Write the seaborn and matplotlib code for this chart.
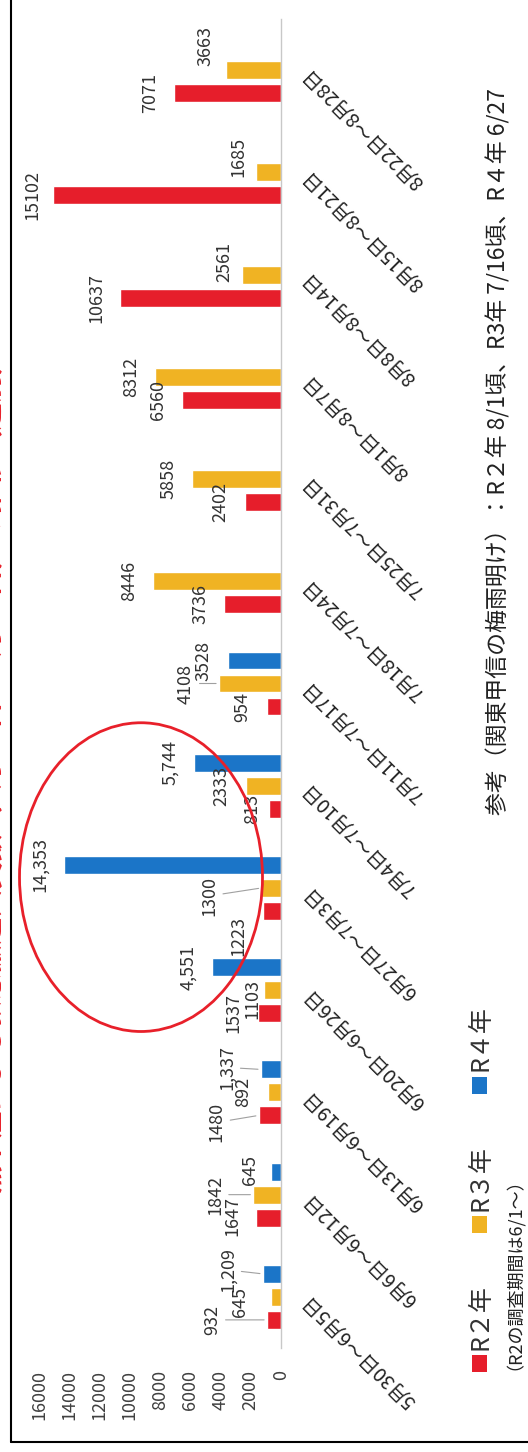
import numpy as np
import pandas as pd
import matplotlib
matplotlib.use("Agg")
import matplotlib.pyplot as plt
import seaborn as sns
from matplotlib.patches import Ellipse, Rectangle
from matplotlib.lines import Line2D

# ---------------- data ----------------
weeks = ["5月30日～6月5日", "6月6日～6月12日", "6月13日～6月19日", "6月20日～6月26日",
         "6月27日～7月3日", "7月4日～7月10日", "7月11日～7月17日", "7月18日～7月24日",
         "7月25日～7月31日", "8月1日～8月7日", "8月8日～8月14日", "8月15日～8月21日",
         "8月22日～8月28日"]
years = ["R２年", "R３年", "R４年"]
r2 = [932, 1647, 1480, 1537, 1223, 813, 954, 3736, 2402, 6560, 10637, 15102, 7071]
r3 = [645, 1842, 892, 1103, 1300, 2333, 4108, 8446, 5858, 8312, 2561, 1685, 3663]
r4 = [1209, 645, 1337, 4551, 14353, 5744, 3528,
      np.nan, np.nan, np.nan, np.nan, np.nan, np.nan]
r2_labels = [str(v) for v in r2]
r3_labels = [str(v) for v in r3]
r4_labels = ["1,209", "645", "1,337", "4,551", "14,353", "5,744", "3528",
             "", "", "", "", "", ""]
value_ticks = [0, 2000, 4000, 6000, 8000, 10000, 12000, 14000, 16000]
title = "熱中症による救急搬送人員数（5月30日～8月28日）の推移（週別）"
note = "参考（関東甲信の梅雨明け）：R２年 8/1頃、R3年 7/16頃、R４年 6/27"
sub_note = "（R2の調査期間は6/1～）"

colors = {"R２年": "#E61E2B", "R３年": "#F0B323", "R４年": "#1B75C8"}

# ---------------- styling ----------------
sns.set_theme(style="white")
plt.rcParams["font.family"] = ["Noto Sans CJK JP", "DejaVu Sans"]

W, H = 528, 1452
fig = plt.figure(figsize=(W / 100, H / 100), dpi=100)
fig.patch.set_facecolor("white")


def fx(px):
    return px / W


def fy(py):
    return 1 - py / H


ax = fig.add_axes([fx(39), fy(1348), 242 / W, 1329 / H])

rows = []
for yr, vals in zip(years, [r2, r3, r4]):
    for wk, v in zip(weeks, vals):
        if not np.isnan(v):
            rows.append({"week": wk, "year": yr, "value": v})
df = pd.DataFrame(rows)

sns.barplot(data=df, x="value", y="week", hue="year", order=weeks,
            hue_order=years, palette=colors, orient="h", width=0.675,
            gap=0.22, errorbar=None, legend=False, saturation=1, ax=ax)

ax.set_xlim(16000, 0)
ax.set_ylim(-0.5, 12.5)
ax.set_xlabel("")
ax.set_ylabel("")
ax.set_facecolor("white")
for s in ["left", "top", "bottom"]:
    ax.spines[s].set_visible(False)
ax.spines["right"].set_color("#C8C8C8")
ax.spines["right"].set_linewidth(1.0)

ax.set_xticks(value_ticks)
ax.set_xticklabels([str(t) for t in value_ticks], rotation=90)
ax.tick_params(axis="x", length=0, pad=16, labelsize=13, labelcolor="#404040")

ax.yaxis.tick_right()
ax.set_yticks(range(len(weeks)))
ax.set_yticklabels(weeks)
ax.tick_params(axis="y", length=0, pad=18, labelsize=14, labelcolor="#222222")
for t in ax.yaxis.get_major_ticks():
    lb = t.label2
    lb.set_rotation(135)
    lb.set_ha("right")
    lb.set_va("center")
    lb.set_rotation_mode("anchor")

# ---------------- data labels ----------------
offsets = {  # (series, week): (dx px, dy px, leader)
    (0, 0): (-31, 0, True), (1, 0): (-7, 5, False), (2, 0): (-11, -4, True),
    (0, 1): (0, -2, False), (1, 1): (-14, 0, True), (2, 1): (3, -2, False),
    (0, 2): (-18, 7, True), (2, 2): (-10, -2, True),
    (1, 3): (12, 9, False),
    (0, 4): (0, 25, False), (1, 4): (-28, 8, True),
    (0, 5): (7, 0, False),
    (1, 6): (-9, 0, True),
    (1, 10): (6, -13, False), (0, 11): (4, 0, False), (1, 11): (7, -15, False),
    (1, 12): (4, -24, False),
}
for j, (vals, labs) in enumerate([(r2, r2_labels), (r3, r3_labels), (r4, r4_labels)]):
    for i, (v, lab) in enumerate(zip(vals, labs)):
        if np.isnan(v):
            continue
        ypos = i + (j - 1) * 0.225
        dx, dy, lead = offsets.get((j, i), (0, 0, False))
        kw = {}
        if lead:
            kw["arrowprops"] = dict(arrowstyle="-", color="#A0A0A0", lw=0.8,
                                    shrinkA=1, shrinkB=2)
        ax.annotate(lab, xy=(v, ypos), xytext=(-24 + dx, -dy),
                    textcoords="offset pixels", rotation=90, ha="center",
                    va="center", fontsize=13, color="#333333",
                    annotation_clip=False, **kw)

# red highlight ellipse
ax.add_patch(Ellipse((9256, 4.106), width=16066, height=3.02, fill=False,
                     edgecolor="#E8202A", lw=2.0, zorder=6, clip_on=False))

# ---------------- legend & notes ----------------
leg = [("R２年", 1372, 1350), ("R３年", 1233, 1211), ("R４年", 1094, 1071)]
for yr, sq_bottom, txt_bottom in leg:
    fig.add_artist(Rectangle((fx(472), fy(sq_bottom)), 15 / W, 17 / H,
                             transform=fig.transFigure, color=colors[yr],
                             lw=0))
    fig.text(fx(481), fy(txt_bottom), yr, rotation=90, ha="center",
             va="bottom", fontsize=18, color="#333333")
fig.text(fx(504), fy(1370), sub_note, rotation=90, ha="center", va="bottom",
         fontsize=13, color="#222222")
fig.text(fx(498), fy(815), note, rotation=90, ha="center", va="bottom",
         fontsize=16.5, color="#222222")

# cut-off title at the left edge (only its lower edge is visible)
fig.text(fx(5), fy(1193), title, rotation=90, ha="right", va="bottom",
         fontsize=20, fontweight="bold", color="#E8202A")

# frame
fig.add_artist(Line2D([fx(11), fx(11)], [fy(0), fy(1442)],
                      transform=fig.transFigure, color="black", lw=1.5))
fig.add_artist(Line2D([fx(11), fx(528)], [fy(1442), fy(1442)],
                      transform=fig.transFigure, color="black", lw=1.5))

fig.savefig("out.png", dpi=100, facecolor="white")
